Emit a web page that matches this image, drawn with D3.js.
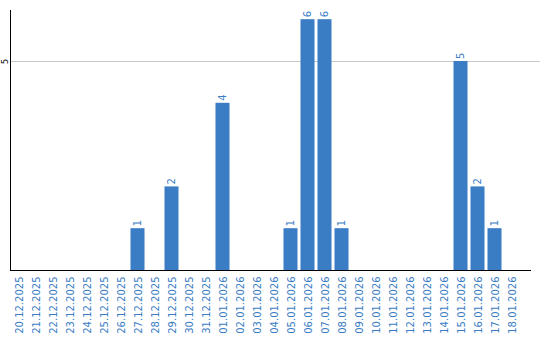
<!DOCTYPE html>
<html>
<head>
<meta charset="utf-8">
<script src="https://cdn.jsdelivr.net/npm/d3@7"></script>
<style>
  body { margin: 0; background: #fff; }
  svg text { font-family: "DejaVu Sans", Verdana, sans-serif; }
</style>
</head>
<body>
<div id="chart"></div>
<script>
"use strict"

/* data */
let dates = [
  "20.12.2025", "21.12.2025", "22.12.2025", "23.12.2025", "24.12.2025",
  "25.12.2025", "26.12.2025", "27.12.2025", "28.12.2025", "29.12.2025",
  "30.12.2025", "31.12.2025", "01.01.2026", "02.01.2026", "03.01.2026",
  "04.01.2026", "05.01.2026", "06.01.2026", "07.01.2026", "08.01.2026",
  "09.01.2026", "10.01.2026", "11.01.2026", "12.01.2026", "13.01.2026",
  "14.01.2026", "15.01.2026", "16.01.2026", "17.01.2026", "18.01.2026"
];
let counts = [
  0, 0, 0, 0, 0, 0, 0, 1, 0, 2,
  0, 0, 4, 0, 0, 0, 1, 6, 6, 1,
  0, 0, 0, 0, 0, 0, 5, 2, 1, 0
];
let yTicks = [5];

let blue = "#3a7dc4";

let drawing = d3.select("#chart")
  .append("svg")
  .attr("width", 540)
  .attr("height", 340);

/* scales */
let x = d3.scaleBand()
  .domain(dates)
  .range([10, 520])
  .paddingInner(0.176)
  .paddingOuter(0.088);

let y = d3.scaleLinear()
  .domain([0, 6.22])
  .range([270, 10]);

/* grid line */
drawing.append("g")
  .selectAll("line")
  .data(yTicks)
  .join("line")
  .attr("x1", 10)
  .attr("x2", 540)
  .attr("y1", d => Math.round(y(d)) + 0.5)
  .attr("y2", d => Math.round(y(d)) + 0.5)
  .attr("stroke", "#c8c8c8")
  .attr("stroke-width", 1);

/* bars */
drawing.append("g")
  .selectAll("rect")
  .data(dates)
  .join("rect")
  .attr("x", d => x(d))
  .attr("width", x.bandwidth())
  .attr("y", (d, i) => y(counts[i]))
  .attr("height", (d, i) => y(0) - y(counts[i]))
  .attr("fill", blue);

/* value labels */
drawing.append("g")
  .selectAll("text")
  .data(dates.filter((d, i) => counts[i] > 0))
  .join("text")
  .attr("transform", d => {
    let v = counts[dates.indexOf(d)];
    return `translate(${x(d) + x.bandwidth() / 2 + 3.5},${y(v) - 2}) rotate(-90)`;
  })
  .attr("font-size", 10)
  .attr("fill", blue)
  .text(d => counts[dates.indexOf(d)]);

/* y axis */
let yAxis = drawing.append("g")
  .attr("transform", "translate(10.5,0)")
  .call(d3.axisLeft(y).tickValues(yTicks).tickFormat(d3.format("d")).tickSize(0).tickPadding(0));
yAxis.select(".domain")
  .attr("d", "M0,10V270")
  .attr("stroke", "#000");
yAxis.selectAll(".tick text")
  .attr("transform", "translate(-5,0) rotate(-90)")
  .attr("x", 0)
  .attr("dy", "0.35em")
  .attr("text-anchor", "middle")
  .attr("font-size", 8)
  .attr("fill", "#000");

/* x axis */
let xAxis = drawing.append("g")
  .attr("transform", "translate(0,270.5)")
  .call(d3.axisBottom(x).tickSize(0).tickPadding(0));
xAxis.select(".domain")
  .attr("d", "M10,0H531")
  .attr("stroke", "#000");
xAxis.selectAll(".tick text")
  .attr("transform", "translate(4,6) rotate(-90)")
  .attr("y", 0)
  .attr("dy", 0)
  .attr("text-anchor", "end")
  .attr("font-size", 10)
  .attr("fill", blue);
</script>
</body>
</html>
